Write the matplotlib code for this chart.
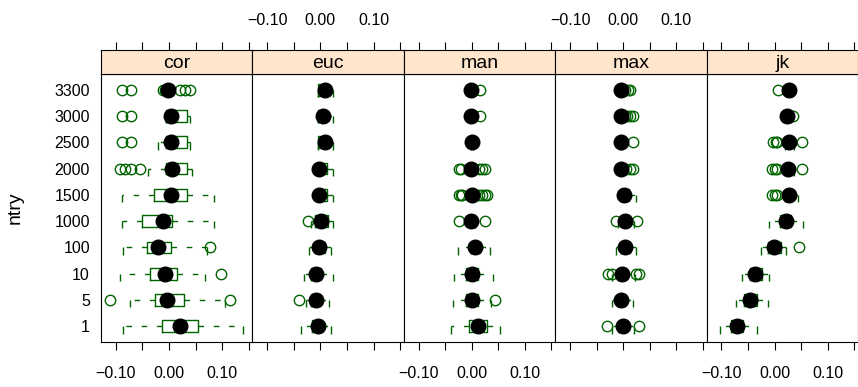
import matplotlib
matplotlib.use("Agg")
import matplotlib.pyplot as plt

plt.rcParams['font.family'] = ['Liberation Sans', 'DejaVu Sans']

ntry = ["1", "5", "10", "100", "1000", "1500", "2000", "2500", "3000", "3300"]
methods = ["cor", "euc", "man", "max", "jk"]

# (whislo, q1, med, q3, whishi) per ntry level, bottom row first
cor_stats = [(-0.087, -0.014, 0.020, 0.054, 0.139),
             (-0.074, -0.027, -0.003, 0.029, 0.106),
             (-0.092, -0.036, -0.008, 0.015, 0.067),
             (-0.086, -0.042, -0.021, 0.003, 0.071),
             (-0.089, -0.050, -0.011, 0.006, 0.084),
             (-0.089, -0.028, 0.003, 0.034, 0.084),
             (-0.039, -0.005, 0.006, 0.033, 0.044),
             (-0.021, -0.005, 0.004, 0.033, 0.039),
             (-0.005, -0.005, 0.004, 0.033, 0.039),
             (-0.004, -0.004, -0.002, 0.000, 0.000)]
cor_out = [[], [-0.111, 0.114], [0.097], [0.078], [], [],
           [-0.092, -0.083, -0.071, -0.055],
           [-0.089, -0.071], [-0.089, -0.071],
           [-0.089, -0.071, -0.012, -0.008, 0.020, 0.031, 0.039]]

euc_stats = [(-0.036, -0.016, -0.005, 0.003, 0.020),
             (-0.027, -0.017, -0.009, -0.001, 0.017),
             (-0.031, -0.017, -0.008, 0.001, 0.023),
             (-0.022, -0.011, -0.002, 0.009, 0.020),
             (-0.018, -0.011, 0.001, 0.014, 0.024),
             (-0.002, -0.002, -0.003, 0.012, 0.024),
             (-0.002, -0.002, -0.003, 0.012, 0.024),
             (-0.005, -0.005, 0.008, 0.017, 0.024),
             (-0.005, -0.005, 0.004, 0.011, 0.024),
             (-0.005, -0.005, 0.009, 0.011, 0.024)]
euc_out = [[], [-0.041], [], [], [-0.024], [], [], [], [], []]

man_stats = [(-0.039, -0.006, 0.012, 0.028, 0.053),
             (-0.036, -0.010, 0.000, 0.012, 0.036),
             (-0.033, -0.011, 0.000, 0.012, 0.040),
             (-0.026, -0.002, 0.006, 0.015, 0.034),
             (-0.006, -0.004, -0.001, 0.004, 0.006),
             (-0.004, -0.002, 0.000, 0.002, 0.004),
             (-0.005, -0.003, -0.002, 0.002, 0.004),
             (-0.002, -0.001, 0.000, 0.001, 0.002),
             (-0.003, -0.003, -0.002, -0.001, -0.001),
             (-0.003, -0.003, -0.002, -0.001, -0.001)]
man_out = [[], [0.044], [], [], [-0.024, 0.025],
           [-0.025, -0.021, -0.018, 0.014, 0.020, 0.025, 0.029],
           [-0.025, -0.021, 0.014, 0.020, 0.025],
           [], [0.016], [0.016]]

max_stats = [(-0.022, -0.008, -0.001, 0.007, 0.021),
             (-0.022, -0.010, -0.004, 0.004, 0.018),
             (-0.022, -0.010, -0.002, 0.006, 0.023),
             (-0.013, -0.004, 0.004, 0.012, 0.024),
             (-0.009, -0.003, 0.004, 0.010, 0.020),
             (-0.004, -0.004, 0.001, 0.010, 0.024),
             (-0.007, -0.007, -0.005, -0.003, -0.002),
             (-0.007, -0.007, -0.005, -0.003, -0.002),
             (-0.007, -0.007, -0.005, -0.003, -0.002),
             (-0.007, -0.007, -0.005, -0.003, -0.002)]
max_out = [[-0.030, 0.029], [], [-0.029, -0.022, 0.024, 0.029], [],
           [-0.014, 0.026], [], [0.006, 0.012, 0.018], [0.018],
           [0.003, 0.008, 0.012, 0.019], [0.003, 0.009, 0.012]]

jk_stats = [(-0.103, -0.082, -0.071, -0.059, -0.034),
            (-0.073, -0.057, -0.046, -0.034, -0.013),
            (-0.062, -0.046, -0.037, -0.023, -0.011),
            (-0.025, -0.012, -0.001, 0.012, 0.022),
            (-0.011, 0.010, 0.021, 0.030, 0.054),
            (0.020, 0.022, 0.027, 0.033, 0.044),
            (0.020, 0.022, 0.026, 0.031, 0.036),
            (0.020, 0.022, 0.027, 0.031, 0.036),
            (0.020, 0.021, 0.024, 0.028, 0.030),
            (0.022, 0.023, 0.027, 0.030, 0.032)]
jk_out = [[], [], [], [0.046], [], [-0.004, 0.000, 0.004],
          [-0.004, 0.000, 0.004, 0.052], [-0.003, 0.002, 0.005, 0.052],
          [0.034], [0.007]]

all_stats = [cor_stats, euc_stats, man_stats, max_stats, jk_stats]
all_out = [cor_out, euc_out, man_out, max_out, jk_out]

green = '#006400'
W, H = 858, 387
fig = plt.figure(figsize=(W / 100, H / 100), dpi=100)

left0, right0 = 101, 858
pw = (right0 - left0) / 5
p_bot, p_top, s_top = 342, 74, 50
xticks = [-0.10, -0.05, 0.0, 0.05, 0.10, 0.15]
xlabels = ['\u22120.10', '', '0.00', '', '0.10', '']
pos = list(range(1, len(ntry) + 1))
tick_fs = 11.5
lab_fs = 14

for i, m in enumerate(methods):
    x0 = (left0 + i * pw) / W
    ax = fig.add_axes([x0, 1 - p_bot / H, pw / W, (p_bot - p_top) / H])
    st = fig.add_axes([x0, 1 - p_top / H, pw / W, (p_top - s_top) / H])

    stats = []
    for (lo, q1, med, q3, hi), fl in zip(all_stats[i], all_out[i]):
        stats.append(dict(whislo=lo, q1=q1, med=med, q3=q3, whishi=hi, fliers=fl))
    ax.bxp(stats, positions=pos, orientation='horizontal', widths=0.45,
           showcaps=False, showfliers=True,
           boxprops=dict(color=green, lw=1.0),
           whiskerprops=dict(color=green, lw=1.0, linestyle=(0, (4, 7))),
           medianprops=dict(linestyle='none'),
           flierprops=dict(marker='o', mfc='none', mec=green, ms=7.5, mew=1.0))
    los = [s[0] for s in all_stats[i]]
    his = [s[4] for s in all_stats[i]]
    meds = [s[2] for s in all_stats[i]]
    ax.vlines(los, [p - 0.28 for p in pos], pos, color=green, lw=1.0)
    ax.vlines(his, [p - 0.28 for p in pos], pos, color=green, lw=1.0)
    ax.plot(meds, pos, 'o', color='black', ms=10.5, zorder=5)

    ax.set_xlim(-0.128, 0.157)
    ax.set_ylim(0.4, len(ntry) + 0.6)
    ax.set_xticks(xticks)
    ax.set_xticklabels(xlabels if i % 2 == 0 else [''] * len(xticks), fontsize=tick_fs)
    ax.tick_params(axis='x', direction='out', length=6, width=0.8, pad=11)
    if i == 0:
        ax.set_yticks(pos)
        ax.set_yticklabels(ntry, fontsize=tick_fs)
        ax.tick_params(axis='y', length=0, pad=8)
    else:
        ax.set_yticks([])
    for sp in ax.spines.values():
        sp.set_linewidth(0.8)

    st.set_facecolor('#ffe5cc')
    st.set_xlim(-0.128, 0.157)
    st.set_ylim(0, 1)
    st.set_yticks([])
    st.set_xticks(xticks)
    st.xaxis.tick_top()
    st.set_xticklabels(xlabels if i % 2 == 1 else [''] * len(xticks), fontsize=tick_fs)
    st.tick_params(axis='x', direction='out', length=6, width=0.8, pad=10)
    st.text(0.5, 0.45, m, transform=st.transAxes, ha='center', va='center', fontsize=lab_fs)
    for sp in st.spines.values():
        sp.set_linewidth(0.8)

fig.text(15 / W, 1 - ((p_bot + p_top) / 2) / H, 'ntry', rotation=90,
         ha='center', va='center', fontsize=lab_fs)

fig.savefig('out.png', dpi=100)
